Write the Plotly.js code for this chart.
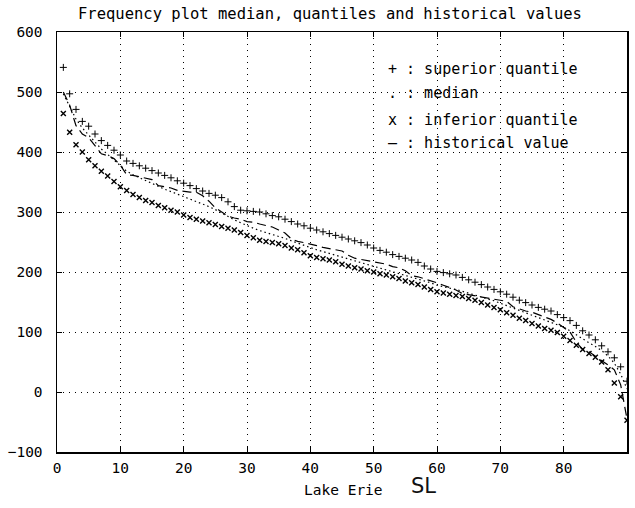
<!DOCTYPE html>
<html>
<head>
<meta charset="utf-8">
<script src="https://cdn.plot.ly/plotly-3.0.1.min.js"></script>
<style>html,body{margin:0;padding:0;background:#fff;}#chart{width:635px;height:508px;}</style>
</head>
<body>
<div id="chart"></div>
<script>
// rank (1..90)
const rank = [];
for (let i = 1; i <= 90; i++) rank.push(i);

const superiorQuantile = [541,497,471,451,443,430,419,411,403,395,
  385,381,377,373,369,365,361,357,352,348,
  344,339,335,331,328,324,317,309,303,302,
  301,300,297,294,292,288,284,280,277,273,
  270,267,264,261,258,255,252,249,245,240,
  236,233,229,226,223,220,216,210,205,201,
  199,197,195,191,187,183,179,175,171,167,
  163,158,153,149,145,141,138,135,129,124,
  119,111,102,95,87,77,67,57,42,18];

const medianValues = [497,475,455,440,428,416,405,396,387,378,
  368,362,357,352,348,343,338,334,330,326,
  322,318,314,309,304,298,292,287,282,277,
  273,269,266,263,260,256,252,248,244,240,
  237,234,231,228,225,222,219,216,213,210,
  207,204,201,198,195,192,189,186,182,178,
  175,173,171,168,165,162,159,156,152,148,
  144,140,136,132,128,124,120,117,113,108,
  102,95,88,82,76,69,60,48,30,5];

const inferiorQuantile = [464,433,412,400,387,377,368,360,351,342,
  336,329,324,319,316,311,307,303,300,295,
  291,288,285,282,279,276,273,270,266,261,
  257,253,251,249,247,244,240,237,232,227,
  224,222,220,217,213,210,207,205,202,200,
  197,195,192,189,185,182,179,175,171,167,
  165,163,161,159,156,153,149,145,141,137,
  132,128,123,119,114,110,106,103,99,93,
  86,78,71,64,58,50,37,15,-8,-47];

const historicalValue = [500,478,444,430,424,410,397,394,389,378,
  362,361,359,357,354,344,342,340,336,334,
  333,333,327,318,307,300,293,290,288,284,
  283,280,277,275,270,265,255,251,249,247,
  244,241,239,237,235,228,223,221,219,217,
  214,213,209,207,202,194,192,189,185,182,
  178,174,170,164,162,160,158,157,155,152,
  151,142,138,135,133,129,126,121,115,108,
  100,83,71,67,60,52,45,37,12,-45];

const legendLines = ["+ : superior quantile", ". : median", "x : inferior quantile", "\u2013 : historical value"];

const mono = "DejaVu Sans Mono, Liberation Mono, monospace";

const traces = [
  {x: rank, y: superiorQuantile, mode: "markers", type: "scatter",
   marker: {symbol: "cross-thin-open", size: 5, color: "#000", line: {color: "#000", width: 1}}},
  {x: rank, y: medianValues, mode: "lines", type: "scatter",
   line: {color: "#000", width: 1.2, dash: "1.5px,3px"}},
  {x: rank, y: inferiorQuantile, mode: "markers", type: "scatter",
   marker: {symbol: "x-thin-open", size: 5, color: "#000", line: {color: "#000", width: 1.4}}},
  {x: rank, y: historicalValue, mode: "lines", type: "scatter",
   line: {color: "#000", width: 1.2, dash: "9px,5px"}}
];

const legendY = [0.913, 0.855, 0.79, 0.735];
const annotations = legendLines.map((t, i) => ({
  text: t, xref: "paper", yref: "paper", x: 0.577, y: legendY[i],
  xanchor: "left", yanchor: "middle", showarrow: false,
  font: {family: mono, size: 15, color: "#000"}
}));
annotations.push({text: "Lake Erie", xref: "paper", yref: "paper", x: (343-57)/570, y: (451.7-490)/420,
  xanchor: "center", yanchor: "middle", showarrow: false, font: {family: mono, size: 14.5, color: "#000"}});
annotations.push({text: "SL", xref: "paper", yref: "paper", x: (423-57)/570, y: (451.7-486)/420,
  xanchor: "center", yanchor: "middle", showarrow: false, font: {family: "DejaVu Sans, sans-serif", size: 21, color: "#111"}});

const layout = {
  width: 635, height: 508,
  margin: {l: 57, r: 8, t: 32, b: 56},
  paper_bgcolor: "#fff", plot_bgcolor: "#fff",
  showlegend: false,
  title: {text: "Frequency plot median, quantiles and historical values",
    xref: "container", yref: "container", x: 330/635, y: 1-14/508,
    xanchor: "center", yanchor: "middle",
    font: {family: mono, size: 15.5, color: "#000"}},
  xaxis: {range: [0, 90], dtick: 10, tick0: 0, showline: true, linecolor: "#000", linewidth: 1.5,
    mirror: "ticks", ticks: "inside", ticklen: 5, tickcolor: "#000",
    showgrid: true, gridcolor: "#000", griddash: "1px,5px", gridwidth: 1, zeroline: false,
    tickfont: {family: mono, size: 14.5, color: "#000"}, ticklabelstandoff: 2},
  yaxis: {range: [-100, 600], dtick: 100, tick0: 0, showline: true, linecolor: "#000", linewidth: 1.5,
    mirror: "ticks", ticks: "inside", ticklen: 5, tickcolor: "#000",
    showgrid: true, gridcolor: "#000", griddash: "1px,5px", gridwidth: 1, zeroline: false,
    tickfont: {family: mono, size: 14.5, color: "#000"}, ticklabelstandoff: 10},
  annotations: annotations
};

Plotly.newPlot("chart", traces, layout, {displayModeBar: false, staticPlot: true});
</script>
</body>
</html>
